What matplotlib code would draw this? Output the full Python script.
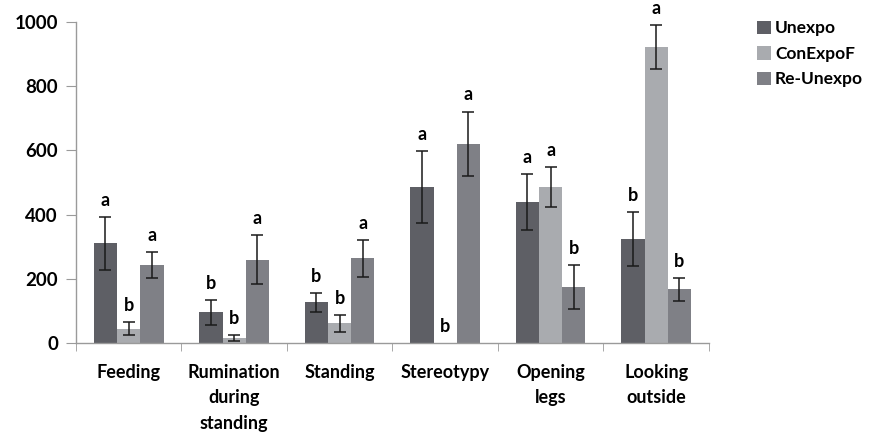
import numpy as np
import matplotlib.pyplot as plt

plt.rcParams['font.family'] = ['Lato', 'DejaVu Sans']
plt.rcParams['font.weight'] = 'bold'

behaviours = ['Feeding', 'Rumination\nduring\nstanding', 'Standing', 'Stereotypy',
              'Opening\nlegs', 'Looking\noutside']
groups = ['Unexpo', 'ConExpoF', 'Re-Unexpo']

unexpo = [311, 96, 127, 485, 439, 323]
unexpo_err = [82, 39, 30, 112, 88, 84]
conexpo = [44, 15, 61, 0, 485, 923]
conexpo_err = [20, 10, 26, 0, 62, 68]
reunexpo = [243, 260, 264, 621, 175, 167]
reunexpo_err = [40, 76, 58, 100, 68, 36]

letters_unexpo = ['a', 'b', 'b', 'a', 'a', 'b']
letters_conexpo = ['b', 'b', 'b', 'b', 'a', 'a']
letters_reunexpo = ['a', 'a', 'a', 'a', 'b', 'b']

colors = ['#5e5f65', '#a9abaf', '#7f8086']

fig = plt.figure(figsize=(8.73, 4.32), dpi=100)
ax = fig.add_axes([0.087, 0.206, 0.725, 0.743])

x = np.arange(len(behaviours))
w = 0.22
series = [(unexpo, unexpo_err, letters_unexpo),
          (conexpo, conexpo_err, letters_conexpo),
          (reunexpo, reunexpo_err, letters_reunexpo)]

for i, (vals, errs, lets) in enumerate(series):
    pos = x + (i - 1) * w
    ax.bar(pos, vals, w, color=colors[i], label=groups[i], zorder=2)
    for p, v, e, l in zip(pos, vals, errs, lets):
        if e > 0:
            ax.errorbar(p, v, yerr=e, fmt='none', ecolor='#1a1a1a', elinewidth=1.1,
                        capsize=4, capthick=1.1, zorder=3)
        # significance letter just above the error bar
        ax.annotate(l, (p, v + e), xytext=(0, 8), textcoords='offset points',
                    ha='center', va='baseline', fontsize=13, fontweight='bold',
                    annotation_clip=False)

ax.set_xlim(-0.5, len(behaviours) - 0.5)
ax.set_ylim(0, 1000)
ax.set_yticks(range(0, 1001, 200))
ax.set_xticks(x)
ax.set_xticklabels(behaviours, fontsize=13, fontweight='bold', linespacing=1.6)
ax.tick_params(axis='x', length=0, pad=15)
ax.set_xticks(np.arange(-0.5, len(behaviours), 1), minor=True)
ax.tick_params(axis='x', which='minor', length=6, color='#9a9a9a', direction='out')
ax.tick_params(axis='y', length=7, color='#9a9a9a', labelsize=13.5, pad=6)
for t in ax.get_yticklabels():
    t.set_fontweight('bold')

for s in ['top', 'right']:
    ax.spines[s].set_visible(False)
for s in ['left', 'bottom']:
    ax.spines[s].set_color('#9a9a9a')
    ax.spines[s].set_linewidth(1)

fig.legend(loc='upper left', bbox_to_anchor=(0.855, 0.977), frameon=False,
           handlelength=0.8, handleheight=0.8, handletextpad=0.25, labelspacing=0.55,
           borderaxespad=0.2, prop={'size': 12.5, 'weight': 'bold'})

fig.savefig('out.png', dpi=100)
